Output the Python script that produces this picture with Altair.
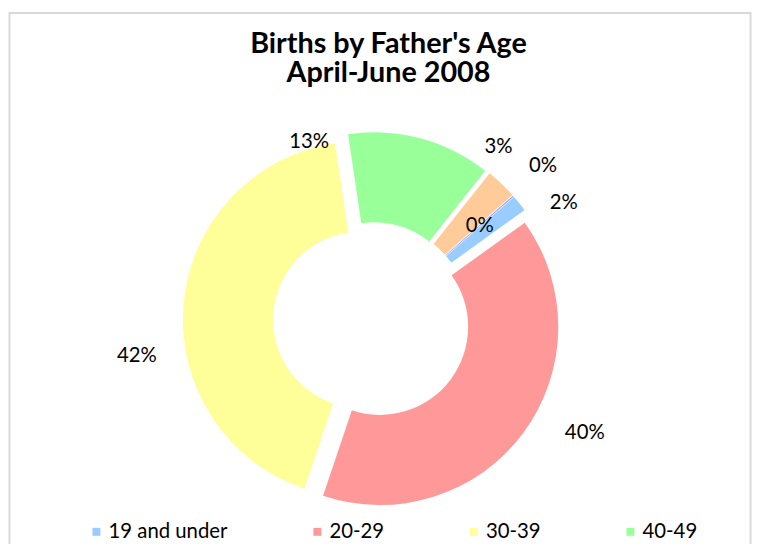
import math
import altair as alt
import pandas as pd

# ---- data -------------------------------------------------------------
categories = ["19 and under", "20-29", "30-39", "40-49", "50-59", "60 and over", "Not stated"]
shares = [1.5, 40.0, 42.4, 13.0, 2.8, 0.1, 0.0]          # percent of births
legend_items = categories[:4]                              # legend is cut off after 4 entries
title_lines = ["Births by Father's Age", "April-June 2008"]

# ---- styling / layout -------------------------------------------------
colors = ["#99CCFF", "#FF9999", "#FFFF99", "#99FF99", "#FFCC99", "#9999FF", "#CC99FF"]
W, H = 752, 536
CX, CY = 367, 313            # donut centre (px)
R_OUT, R_IN = 180, 89
EXPLODE = 10.5               # slice explosion distance (px)
FIRST_SLICE_DEG = 48.9       # angle of first slice
FONT = "Lato"
TEXT_SIZE = 20.5
# manually moved data labels: (angle nudge in degrees, radius in px); default = ring centre
label_place = {
    "19 and under": (6.9, 227.6),
    "20-29": (-8.6, 243.4),
    "30-39": (-13.7, 239.7),
    "40-49": (-34.3, 190.7),
    "50-59": (-7.3, 216.8),
    "60 and over": (-0.8, 233.0),
}
default_r = (R_OUT + R_IN) / 2 + EXPLODE

total = sum(shares)
a0 = math.radians(FIRST_SLICE_DEG)

df = pd.DataFrame({
    "category": categories,
    "share": shares,
    "order": list(range(len(categories))),
    "nudge": [label_place.get(c, (0.0, default_r))[0] for c in categories],
    "lab_r": [label_place.get(c, (0.0, default_r))[1] for c in categories],
})

base = (
    alt.Chart(df)
    .transform_window(cum1="sum(share)", sort=[alt.SortField("order")], frame=[None, 0])
    .transform_calculate(cum0="datum.cum1 - datum.share")
    .transform_calculate(mid=f"{a0} + (datum.cum0 + datum.cum1) / 2 / {total} * 2 * PI")
    .transform_calculate(
        cx=f"{CX} + {EXPLODE} * sin(datum.mid)",
        cy=f"{CY} - {EXPLODE} * cos(datum.mid)",
        la="datum.mid + datum.nudge * PI / 180",
        pct=f"format(datum.share / {total}, '.0%')",
    )
    .transform_calculate(
        lx=f"{CX} + datum.lab_r * sin(datum.la)",
        ly=f"{CY} - datum.lab_r * cos(datum.la)",
    )
)

arcs = base.mark_arc(radius=R_OUT, radius2=R_IN).encode(
    theta=alt.Theta("cum0:Q", stack=False,
                    scale=alt.Scale(domain=[0, total], range=[a0, a0 + 2 * math.pi])),
    theta2="cum1:Q",
    x=alt.X("cx:Q", scale=None),
    y=alt.Y("cy:Q", scale=None),
    color=alt.Color(
        "category:N",
        scale=alt.Scale(domain=categories, range=colors),
        legend=alt.Legend(
            orient="none", legendX=79, legendY=516, direction="horizontal",
            gridAlign="none", title=None, values=legend_items,
            symbolType="square", symbolSize=64, symbolStrokeWidth=0,
            labelFont=FONT, labelFontSize=TEXT_SIZE, labelColor="#000000",
            labelOffset=2, columnPadding=80, padding=0,
        ),
    ),
)

labels = base.mark_text(font=FONT, fontSize=TEXT_SIZE, color="#000000",
                        align="center", baseline="middle").encode(
    x=alt.X("lx:Q", scale=None),
    y=alt.Y("ly:Q", scale=None),
    text="pct:N",
)

title = alt.Chart(pd.DataFrame({"t": ["\n".join(title_lines)]})).mark_text(
    lineBreak="\n", font=FONT, fontSize=29, fontWeight="bold", color="#000000",
    align="center", baseline="top", lineHeight=29.5,
).encode(text="t:N", x=alt.value(384), y=alt.value(19.5))

frame = alt.Chart(pd.DataFrame({"f": [0]})).mark_rect(
    filled=False, stroke="#D9D9D9", strokeWidth=2
).encode(x=alt.value(1.5), x2=alt.value(749.5), y=alt.value(2.5), y2=alt.value(700))

chart = (
    alt.layer(frame, arcs, labels, title)
    .properties(width=W, height=H, autosize=alt.AutoSizeParams(type="none"), padding=0)
    .configure_view(strokeWidth=0)
)

chart.save("out.html", embed_options={"renderer": "svg", "actions": False})
